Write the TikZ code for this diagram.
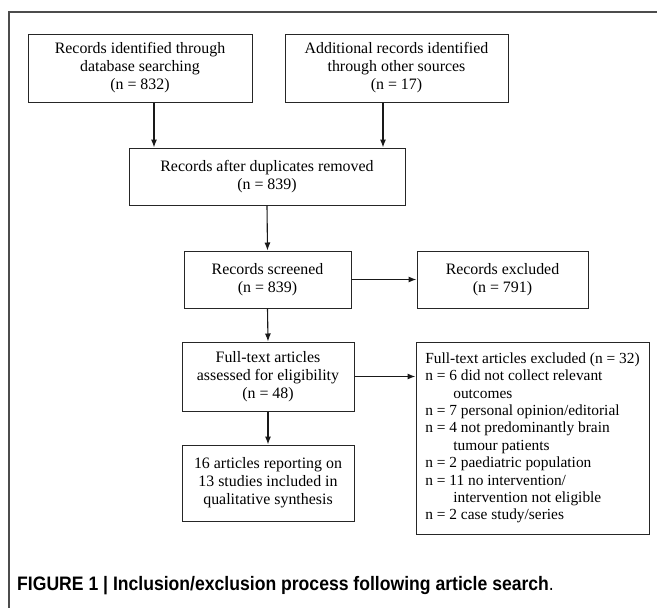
\documentclass[tikz,border=0pt]{standalone}
\usepackage{fontspec}
\setmainfont{Liberation Serif}
\newfontfamily\capfont{Liberation Sans}
\usetikzlibrary{arrows.meta}
\begin{document}
\begin{tikzpicture}[x=1pt,y=-1pt,
  box/.style={draw=black!85,line width=1pt,inner sep=0pt,align=center,font=\fontsize{15.9}{18}\selectfont},
  arr/.style={draw=black!90,line width=1.1pt,-{Latex[length=8pt,width=6pt]}}]
\useasboundingbox (0,0) rectangle (657,608);
\fill[white] (0,0) rectangle (657,608);
\draw[line width=1.2pt, black!70] (9,620) -- (9,12) -- (670,12);

\node[box, minimum width=224pt, minimum height=68pt] (b1) at (140,68)
  {Records identified through\\database searching\\(n = 832)};
\node[box, minimum width=223pt, minimum height=68pt] (b2) at (396.5,68)
  {Additional records identified\\through other sources\\(n = 17)};
\node[box, minimum width=276pt, minimum height=57pt] (b3) at (267,176.5)
  {Records after duplicates removed\\(n = 839)};
\node[box, minimum width=167pt, minimum height=57pt] (b4) at (267.5,279.5)
  {Records screened\\(n = 839)};
\node[box, minimum width=171pt, minimum height=57pt] (b5) at (502.5,279.5)
  {Records excluded\\(n = 791)};
\node[box, minimum width=172pt, minimum height=69pt] (b6) at (268,376.5)
  {Full-text articles\\assessed for eligibility\\(n = 48)};
\node[box, minimum width=172pt, minimum height=76pt] (b7) at (268,483)
  {16 articles reporting on\\13 studies included in\\qualitative synthesis};
\node[box, align=left, minimum width=233pt, minimum height=192pt,
  font=\fontsize{15.4}{17.4}\selectfont] (b8) at (532.5,438)
  {Full-text articles excluded (n = 32)\\
   n = 6 did not collect relevant\\
   \hspace*{28pt}outcomes\\
   n = 7 personal opinion/editorial\\
   n = 4 not predominantly brain\\
   \hspace*{28pt}tumour patients\\
   n = 2 paediatric population\\
   n = 11 no intervention/\\
   \hspace*{28pt}intervention not eligible\\
   n = 2 case study/series};

\coordinate (a1) at (154,0);
\coordinate (a2) at (383,0);
\draw[arr] (b1.south -| a1) -- (b3.north -| a1);
\draw[arr] (b2.south -| a2) -- (b3.north -| a2);
\draw[arr] (b3.south) -- (b4.north);
\draw[arr] (b4.east) -- (b5.west);
\draw[arr] (b4.south) -- (b6.north);
\draw[arr] (b6.east) -- (b8.west |- b6.east);
\draw[arr] (b6.south) -- (b7.north);

\node[anchor=west, inner sep=0pt, font=\capfont\bfseries\fontsize{19.5}{20}\selectfont] (cap) at (17,586)
  {\scalebox{0.902}[1]{FIGURE 1 | Inclusion/exclusion process following article search{\mdseries .}}};
\end{tikzpicture}
\end{document}
